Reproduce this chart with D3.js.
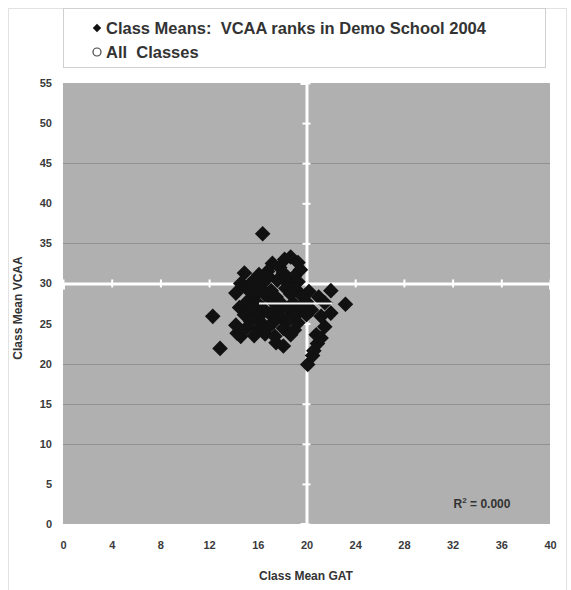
<!DOCTYPE html>
<html>
<head>
<meta charset="utf-8">
<script src="https://cdn.jsdelivr.net/npm/d3@7"></script>
<style>
  body { margin: 0; background: #fff; }
  text { font-family: "Liberation Sans", Arial, sans-serif; font-weight: bold; fill: #333; }
</style>
</head>
<body>
<div id="chart"></div>
<script>
// class means
var classGAT = [
  16.4, 12.3, 12.9, 20.1, 20.5, 20.6, 20.9, 21.2, 20.8, 21.5, 21.2, 22.0, 23.2, 22.0, 21.5, 21.0,
  14.9, 17.2, 18.7, 18.2, 19.5, 19.3, 17.8, 16.8, 17.5, 18.1, 14.3, 14.6, 14.2, 14.2, 14.5, 14.6, 15.0,
  16.1, 16.9, 18.1, 19.0,
  15.6, 16.4, 17.6, 18.4, 19.3,
  15.3, 16.2, 17.1, 18.3, 19.1, 20.2,
  15.7, 16.6, 17.5, 18.7, 19.6,
  15.1, 16.0, 17.2, 18.0, 18.9, 20.0,
  15.5, 16.4, 17.6, 18.5, 19.4, 20.4,
  14.9, 16.1, 17.0, 17.9, 19.1, 20.0,
  15.4, 16.3, 17.3, 18.5, 19.3,
  15.1, 16.0, 16.9, 18.1, 19.0,
  15.7, 16.6, 17.4, 18.7
]
var classVCAA = [
  36.2, 25.9, 21.9, 19.9, 21.0, 21.6, 22.5, 23.2, 23.6, 24.6, 25.9, 26.3, 27.4, 29.1, 27.6, 28.3,
  31.3, 32.5, 33.3, 33.0, 31.7, 32.6, 32.0, 31.5, 22.6, 22.2, 23.8, 23.4, 24.8, 28.8, 27.0, 30.0, 29.5,
  31.1, 30.8, 31.3, 30.9,
  30.3, 30.0, 30.4, 30.1, 30.2,
  29.2, 29.5, 29.1, 29.4, 29.3, 29.0,
  28.4, 28.6, 28.3, 28.7, 28.5,
  27.7, 27.5, 27.8, 27.4, 27.6, 27.7,
  26.7, 26.9, 26.6, 26.8, 26.9, 26.7,
  26.1, 25.9, 26.2, 25.8, 26.0, 26.1,
  25.3, 25.1, 25.2, 25.4, 25.1,
  24.5, 24.3, 24.6, 24.4, 24.2,
  23.5, 23.7, 23.4, 23.6
]
// "All Classes" point with its horizontal error bar
var allGAT = [19.1]
var allVCAA = [27.5]
var allErrGAT = [3.0]

var xTicks = [0, 4, 8, 12, 16, 20, 24, 28, 32, 36, 40]
var yTicks = [0, 5, 10, 15, 20, 25, 30, 35, 40, 45, 50, 55]
var gridValues = [10, 15, 20, 35, 45]
var crossAt = [20, 30]
var legendLabels = ["Class Means:  VCAA ranks in Demo School 2004", "All  Classes"]
var r2Label = "0.000"

function scatterChart(){
    var width = 571,
        height = 590
    var plot = {left: 63, right: 550, top: 83, bottom: 524}

    function chart(div) {
        var svg = div.append('svg')
            .attr('width', width).attr('height', height)

        // outer frame + legend box
        svg.append('rect')
            .attr('x', 8.5).attr('y', 8.5)
            .attr('width', 558).attr('height', 600)
            .style('fill', 'none').style('stroke', '#e2e2e2')
        svg.append('rect')
            .attr('x', 63.5).attr('y', 8.5)
            .attr('width', 482).attr('height', 59)
            .style('fill', 'none').style('stroke', '#d0d0d0')

        var xScale = d3.scaleLinear().domain([0, 40]).range([plot.left, plot.right])
        var yScale = d3.scaleLinear().domain([0, 55]).range([plot.bottom, plot.top])

        svg.append('rect')
            .attr('x', plot.left).attr('y', plot.top)
            .attr('width', plot.right - plot.left)
            .attr('height', plot.bottom - plot.top)
            .style('fill', '#b0b0b0')

        svg.append('g').selectAll('line')
            .data(gridValues).enter().append('line')
            .attr('x1', plot.left).attr('x2', plot.right)
            .attr('y1', function(d){ return Math.round(yScale(d)) + 0.5 })
            .attr('y2', function(d){ return Math.round(yScale(d)) + 0.5 })
            .style('stroke', '#909090')

        // outer tick labels
        var yAxis = d3.axisLeft(yScale).tickValues(yTicks).tickSize(0).tickPadding(11)
        var yG = svg.append('g')
            .attr('transform', 'translate(' + plot.left + ',0)')
            .call(yAxis)
        var xAxis = d3.axisBottom(xScale).tickValues(xTicks).tickSize(0).tickPadding(17)
        var xG = svg.append('g')
            .attr('transform', 'translate(0,' + plot.bottom + ')')
            .call(xAxis)
        ;[xG, yG].forEach(function(g){
            g.select('.domain').remove()
            g.selectAll('text')
                .style('font-size', '11px')
                .style('font-family', '"Liberation Sans", Arial, sans-serif')
                .style('font-weight', 'bold')
                .style('fill', '#3a3a3a')
        })

        // white crossing axes at (20, 30)
        var vAxis = d3.axisLeft(yScale).tickValues(yTicks).tickFormat('')
        var vG = svg.append('g')
            .attr('transform', 'translate(' + xScale(crossAt[0]) + ',0)')
            .call(vAxis)
        var hAxis = d3.axisBottom(xScale).tickValues(xTicks).tickFormat('')
        var hG = svg.append('g')
            .attr('transform', 'translate(0,' + yScale(crossAt[1]) + ')')
            .call(hAxis)
        vG.select('.domain').style('stroke', '#fff').style('stroke-width', 3)
        hG.select('.domain').style('stroke', '#fff').style('stroke-width', 3)
        vG.selectAll('.tick line').attr('x1', -4).attr('x2', 4)
            .style('stroke', '#fff').style('stroke-width', 2)
        hG.selectAll('.tick line').attr('y1', -4).attr('y2', 4)
            .style('stroke', '#fff').style('stroke-width', 2)

        var diamond = d3.symbol().type(d3.symbolSquare).size(122)
        svg.append('g').selectAll('path')
            .data(classGAT).enter().append('path')
            .attr('d', diamond)
            .attr('transform', function(d, i){
                return 'translate(' + xScale(d) + ',' + yScale(classVCAA[i]) + ') rotate(45)'
            })
            .style('fill', '#111')

        // all-classes error bar
        svg.append('g').selectAll('line')
            .data(allGAT).enter().append('line')
            .attr('x1', function(d, i){ return xScale(d - allErrGAT[i]) })
            .attr('x2', function(d, i){ return xScale(d + allErrGAT[i]) })
            .attr('y1', function(d, i){ return yScale(allVCAA[i]) })
            .attr('y2', function(d, i){ return yScale(allVCAA[i]) })
            .style('stroke', '#f4f4f4').style('stroke-width', 2)

        // legend
        var legend = svg.append('g')
        legend.append('path')
            .attr('d', d3.symbol().type(d3.symbolSquare).size(36))
            .attr('transform', 'translate(97,28) rotate(45)')
            .style('fill', '#111')
        legend.append('circle')
            .attr('cx', 97).attr('cy', 52).attr('r', 4)
            .style('fill', '#fff').style('stroke', '#444').style('stroke-width', 1.2)
        legend.selectAll('text')
            .data(legendLabels).enter().append('text')
            .attr('x', 106)
            .attr('y', function(d, i){ return 34 + i * 24 })
            .attr('xml:space', 'preserve')
            .style('white-space', 'pre')
            .style('font-size', '16.5px')
            .text(function(d){ return d })

        svg.append('text')
            .attr('x', 482).attr('y', 508)
            .attr('text-anchor', 'middle')
            .style('font-size', '12px')
            .html('R<tspan dy="-5" font-size="8px">2</tspan><tspan dy="5"> = ' + r2Label + '</tspan>')

        svg.append('text')
            .attr('x', 306).attr('y', 580)
            .attr('text-anchor', 'middle')
            .style('font-size', '12px')
            .text('Class Mean GAT')
        svg.append('text')
            .attr('transform', 'translate(22,308) rotate(-90)')
            .attr('text-anchor', 'middle')
            .style('font-size', '12px')
            .text('Class Mean VCAA')
    }
    return chart
}

d3.select('#chart').call(scatterChart())
</script>
</body>
</html>
